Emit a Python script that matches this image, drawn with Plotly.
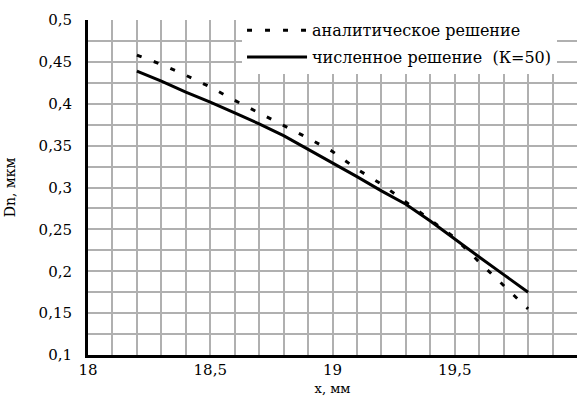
import plotly.graph_objects as go

x_vals = [18.2, 18.3, 18.4, 18.5, 18.6, 18.7, 18.8, 18.9, 19.0, 19.1, 19.2, 19.3, 19.4, 19.5, 19.6, 19.7, 19.8]
analytic = [0.458, 0.447, 0.434, 0.420, 0.404, 0.389, 0.375, 0.359, 0.343, 0.322, 0.304, 0.283, 0.262, 0.240, 0.211, 0.183, 0.155]
numeric = [0.439, 0.427, 0.414, 0.402, 0.389, 0.376, 0.362, 0.346, 0.330, 0.313, 0.296, 0.280, 0.260, 0.238, 0.217, 0.196, 0.175]

# grid/tick positions and labels (blank label = grid line only)
x_ticks = [18.0, 18.1, 18.2, 18.3, 18.4, 18.5, 18.6, 18.7, 18.8, 18.9, 19.0,
           19.1, 19.2, 19.3, 19.4, 19.5, 19.6, 19.7, 19.8, 19.9, 20.0]
x_tick_labels = ["18", "", "", "", "", "18,5", "", "", "", "", "19",
                 "", "", "", "", "19,5", "", "", "", "", "20"]
y_ticks = [0.1, 0.125, 0.15, 0.175, 0.2, 0.225, 0.25, 0.275, 0.3, 0.325,
           0.35, 0.375, 0.4, 0.425, 0.45, 0.475, 0.5]
y_tick_labels = ["0,1", "", "0,15", "", "0,2", "", "0,25", "", "0,3", "",
                 "0,35", "", "0,4", "", "0,45", "", "0,5"]

FONT = "DejaVu Serif"

fig = go.Figure()
fig.add_trace(go.Scatter(x=x_vals, y=analytic, mode="lines", name="аналитическое решение",
                         legendgroup="a",
                         line=dict(color="black", width=3, dash="5px,13px")))
fig.add_trace(go.Scatter(x=x_vals, y=numeric, mode="lines", name="численное решение  (К=50)",
                         legendgroup="b",
                         line=dict(color="black", width=3)))

grid_color = "#b0b0b0"
fig.update_layout(
    template="none",
    width=583, height=406,
    margin=dict(l=88, r=6, t=20, b=51),
    paper_bgcolor="white", plot_bgcolor="white",
    font=dict(family=FONT, size=15, color="black"),
    legend=dict(x=0.315, y=1.02, xanchor="left", yanchor="top", bgcolor="white",
                font=dict(family=FONT, size=16), itemwidth=60, tracegroupgap=3),
    xaxis=dict(range=[18, 20], tickmode="array", tickvals=x_ticks, ticktext=x_tick_labels,
               automargin=False,
               showline=True, linecolor="#000000", linewidth=3,
               ticks="", ticklabelstandoff=-1,
               showgrid=True, gridcolor=grid_color, gridwidth=2,
               zeroline=False,
               title=dict(text="x, мм", font=dict(family=FONT, size=13), standoff=6)),
    yaxis=dict(range=[0.1, 0.5], tickmode="array", tickvals=y_ticks, ticktext=y_tick_labels,
               automargin=False,
               showline=True, linecolor="#000000", linewidth=3,
               ticks="", ticklabelstandoff=10,
               showgrid=True, gridcolor=grid_color, gridwidth=2,
               zeroline=False,
               title=dict(text="Dn, мкм", font=dict(family=FONT, size=14), standoff=20)),
)

fig.write_html("out.html", config={"displayModeBar": False},
               post_script="document.body.style.margin='0';")
